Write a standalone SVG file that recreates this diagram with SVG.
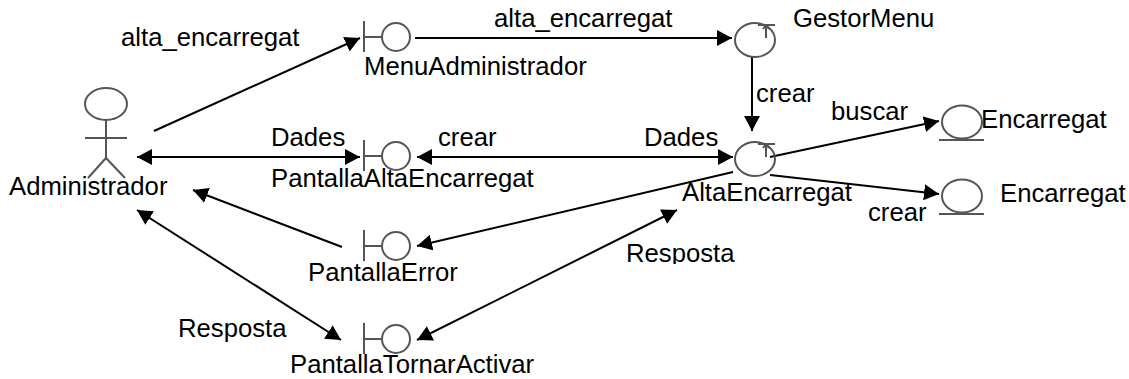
<svg xmlns="http://www.w3.org/2000/svg" width="1129" height="379" viewBox="0 0 1129 379">
<style>
text{font-family:"Liberation Sans",Arial,sans-serif;font-size:25.7px;fill:#000}
.c line{stroke:#000;stroke-width:2;fill:none}
.s{stroke:#555;stroke-width:2;fill:none}
</style>
<defs>
<clipPath id="cut"><rect x="620" y="230" width="120" height="34"/></clipPath>
<marker id="a" markerUnits="userSpaceOnUse" markerWidth="16" markerHeight="16" refX="15" refY="8" orient="auto-start-reverse"><path d="M0 0L15 8L0 16Z" fill="#000"/></marker>
<g id="bd"><line class="s" x1="0" y1="-16" x2="0" y2="15"/><line class="s" x1="0" y1="0" x2="18" y2="0"/><circle class="s" cx="32" cy="0" r="14"/></g>
<g id="ct"><ellipse class="s" cx="0" cy="0" rx="20" ry="17"/><line class="s" x1="3" y1="-15" x2="20" y2="-15"/><line class="s" x1="11" y1="-15" x2="11" y2="-2"/><line class="s" x1="11" y1="-15" x2="8" y2="-11"/><line class="s" x1="11" y1="-15" x2="14" y2="-11"/></g>
<g id="en"><ellipse class="s" cx="0" cy="0" rx="20" ry="16.5"/><line class="s" x1="-23" y1="18" x2="22" y2="18"/></g>
</defs>
<g id="connectors" class="c">
<line x1="154" y1="131" x2="360" y2="38" marker-end="url(#a)"/>
<line x1="137" y1="157" x2="360" y2="157" marker-start="url(#a)" marker-end="url(#a)"/>
<line x1="342" y1="247" x2="193" y2="190" marker-end="url(#a)"/>
<line x1="137" y1="210" x2="341" y2="340" marker-start="url(#a)" marker-end="url(#a)"/>
<line x1="415" y1="38" x2="732" y2="38" marker-end="url(#a)"/>
<line x1="417" y1="157" x2="733" y2="157" marker-start="url(#a)" marker-end="url(#a)"/>
<line x1="733" y1="172" x2="417" y2="246" marker-end="url(#a)"/>
<line x1="417" y1="340" x2="677" y2="210" marker-start="url(#a)" marker-end="url(#a)"/>
<line x1="752" y1="56" x2="752" y2="131" marker-end="url(#a)"/>
<line x1="770" y1="157" x2="939" y2="121" marker-end="url(#a)"/>
<line x1="770" y1="175" x2="939" y2="194" marker-end="url(#a)"/>
</g>
<g id="Administrador">
<ellipse class="s" cx="106" cy="104" rx="21" ry="16"/><line class="s" x1="106" y1="120" x2="106" y2="158"/><line class="s" x1="85" y1="138" x2="127" y2="138"/><line class="s" x1="106" y1="158" x2="88" y2="178"/><line class="s" x1="106" y1="158" x2="125" y2="178"/>
<text x="9" y="195">Administrador</text>
</g>
<g id="MenuAdministrador"><use href="#bd" x="364" y="37"/><text x="364" y="75">MenuAdministrador</text></g>
<g id="PantallaAltaEncarregat"><use href="#bd" x="364" y="156"/><text x="271" y="187">PantallaAltaEncarregat</text></g>
<g id="PantallaError"><use href="#bd" x="364" y="246"/><text x="308" y="281">PantallaError</text></g>
<g id="PantallaTornarActivar"><use href="#bd" x="364" y="339"/><text x="290" y="373">PantallaTornarActivar</text></g>
<g id="GestorMenu"><use href="#ct" x="755" y="40"/><text x="793" y="27">GestorMenu</text></g>
<g id="AltaEncarregat"><use href="#ct" x="755" y="159"/><text x="682" y="201">AltaEncarregat</text></g>
<g id="Encarregat1"><use href="#en" x="962" y="122"/><text x="981" y="128">Encarregat</text></g>
<g id="Encarregat2"><use href="#en" x="962" y="196"/><text x="1000" y="202">Encarregat</text></g>
<g id="labels">
<text x="121" y="46">alta_encarregat</text>
<text x="494" y="27">alta_encarregat</text>
<text x="271" y="146">Dades</text>
<text x="438" y="146">crear</text>
<text x="644" y="146">Dades</text>
<text x="756" y="102">crear</text>
<text x="831" y="120">buscar</text>
<text x="868" y="221">crear</text>
<text x="626" y="262" clip-path="url(#cut)">Resposta</text>
<text x="178" y="337">Resposta</text>
</g>
</svg>
